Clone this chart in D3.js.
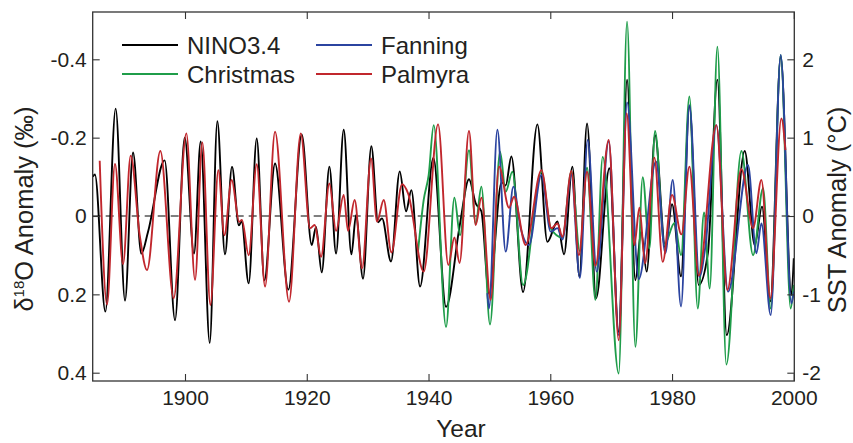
<!DOCTYPE html>
<html>
<head>
<meta charset="utf-8">
<script src="https://cdn.jsdelivr.net/npm/d3@7"></script>
<style>
body { margin: 0; background: #fff; }
text { font-family: "Liberation Sans", Arial, Helvetica, sans-serif; fill: #231f20; }
</style>
</head>
<body>
<div id="chart"></div>
<script>
// NINO3.4 SST anomaly (degC)
const nino34 = [
  [1884.85,0.50],[1885.2,0.53],[1886.92,-1.22],[1888.61,1.37],[1890.15,-1.08],[1891.46,0.81],
  [1892.83,-0.48],[1893.93,-0.20],[1896.66,0.71],[1898.36,-1.33],[1899.95,1.00],[1901.48,-0.48],
  [1902.58,0.95],[1904.06,-1.62],[1905.31,1.21],[1906.57,-0.49],[1907.72,0.63],[1908.85,-0.12],
  [1909.3,-0.07],[1910.46,-0.86],[1911.78,0.99],[1913.04,-0.82],[1914.79,0.67],[1916.98,-0.94],
  [1919.17,1.04],[1920.81,-0.37],[1921.52,-0.14],[1922.46,-0.72],[1923.72,0.63],[1924.81,-0.48],
  [1926.07,1.10],[1927.33,-0.49],[1928.09,0.01],[1929.24,-0.80],[1930.61,0.89],[1931.71,-0.08],
  [1932.36,-0.03],[1933.84,-0.58],[1935.27,0.57],[1936.31,0.06],[1937.18,0.33],[1938.61,-0.90],
  [1940.8,0.74],[1942.88,-1.16],[1945.13,-0.12],[1946.65,0.47],[1947.75,0.16],[1948.68,0.06],
  [1949.94,-0.99],[1952.02,0.43],[1952.68,0.39],[1953.61,0.76],[1955.53,-0.97],[1957.88,1.17],
  [1959.52,-0.33],[1961.17,-0.07],[1962.26,-0.49],[1963.63,0.63],[1964.78,-0.77],[1966.04,1.18],
  [1967.52,-1.05],[1969.71,0.61],[1971.24,-1.48],[1972.61,1.74],[1973.98,-0.82],[1974.91,-0.20],
  [1975.84,-0.71],[1977.21,1.03],[1978.91,-0.41],[1980.0,0.15],[1981.48,-0.77],[1982.85,1.40],
  [1984.38,-0.88],[1985.91,-0.46],[1987.45,1.74],[1988.98,-1.52],[1991.94,0.83],[1993.58,-0.37],
  [1994.78,0.12],[1996.15,-1.09],[1997.85,2.03],[1999.60,-1.01],[2000.0,-0.54]
];

// coral d18O anomalies (permil), left axis
const christmas = [
  [1938.28,0.09],[1939.21,-0.041],[1940.03,-0.105],[1940.85,-0.232],[1942.88,0.283],[1944.25,-0.047],
  [1945.18,0.049],[1946.65,-0.168],[1947.75,0.019],[1948.68,-0.075],[1950.1,0.277],[1951.75,-0.164],
  [1952.68,-0.062],[1953.77,-0.113],[1955.53,0.176],[1958.54,-0.113],[1960.07,0.031],[1962.0,0.055],
  [1963.47,-0.113],[1964.85,0.09],[1966.04,-0.123],[1967.41,0.214],[1968.61,-0.151],[1971.24,0.402],
  [1972.61,-0.496],[1973.98,0.334],[1975.18,-0.099],[1976.28,0.083],[1977.21,-0.217],[1978.74,0.074],
  [1980.4,0.018],[1981.48,0.1],[1982.85,-0.305],[1984.22,0.236],[1985.26,-0.009],[1986.19,0.185],
  [1987.45,-0.432],[1988.92,0.379],[1991.39,-0.166],[1993.31,0.1],[1994.95,-0.071],[1996.21,0.236],
  [1997.85,-0.411],[1999.49,0.236],[2000.0,0.176]
];

const fanning = [
  [1949.67,0.197],[1949.94,0.236],[1951.31,-0.22],[1952.68,0.091],[1953.94,-0.075],[1955.14,0.031],
  [1956.51,0.074],[1958.54,-0.105],[1960.07,0.04],[1961.17,0.031],[1961.99,0.06],[1963.47,-0.105],
  [1964.85,0.158],[1966.15,-0.194],[1967.63,0.142],[1969.6,-0.191],[1971.24,0.304],[1972.61,-0.29],
  [1974.53,0.161],[1977.37,-0.139],[1978.91,0.095],[1980.11,-0.092],[1981.48,0.231],[1982.85,-0.283],
  [1984.49,0.155],[1985.5,0.075],[1987.28,-0.232],[1989.2,0.193],[1992.48,-0.13],[1993.85,0.095],
  [1994.68,0.019],[1996.21,0.253],[1997.85,-0.411],[1999.6,0.223],[2000.0,0.193]
];

const palmyra = [
  [1885.99,-0.141],[1887.19,0.226],[1888.5,-0.133],[1889.82,0.123],[1891.08,-0.154],[1892.56,0.049],
  [1893.76,0.138],[1895.95,-0.166],[1898.14,0.21],[1900.22,-0.211],[1901.65,0.163],[1902.85,-0.188],
  [1904.17,0.227],[1905.48,-0.117],[1906.46,0.049],[1907.67,-0.092],[1908.9,0.015],[1909.35,0.01],
  [1910.46,0.1],[1911.78,-0.132],[1913.15,0.18],[1914.79,-0.215],[1917.09,0.219],[1919.01,-0.211],
  [1920.54,0.031],[1921.3,0.023],[1922.35,0.104],[1923.72,-0.083],[1924.81,0.038],[1926.07,-0.054],
  [1926.78,0.038],[1927.87,-0.041],[1929.08,0.134],[1930.56,-0.147],[1931.54,0.014],[1932.64,-0.041],
  [1933.9,0.093],[1935.65,-0.081],[1936.64,-0.058],[1939.21,0.142],[1941.57,-0.234],[1943.25,0.125],
  [1944.25,0.055],[1945.1,0.12],[1946.65,-0.217],[1947.75,0.023],[1948.68,-0.047],[1950.21,0.214],
  [1951.58,-0.126],[1953.23,-0.021],[1954.05,-0.049],[1955.96,0.074],[1958.54,-0.117],[1960.18,0.031],
  [1961.17,0.019],[1961.99,0.053],[1963.47,-0.115],[1964.7,0.1],[1966.04,-0.113],[1967.41,0.127],
  [1969.6,-0.194],[1971.24,0.317],[1972.55,-0.262],[1973.81,0.074],[1974.64,-0.021],[1975.57,0.121],
  [1977.1,-0.149],[1978.47,0.117],[1980.0,-0.054],[1981.54,0.047],[1982.85,-0.126],[1984.38,0.152],
  [1987.28,-0.232],[1989.09,0.189],[1991.39,-0.12],[1993.31,0.031],[1994.68,-0.092],[1996.15,0.21],
  [1997.96,-0.249],[1998.62,-0.168]
];

const yearTicks = [1900, 1920, 1940, 1960, 1980, 2000];
const leftTicks = [-0.4, -0.2, 0, 0.2, 0.4];
const rightTicks = [-2, -1, 0, 1, 2];
const seriesNames = ["NINO3.4", "Christmas", "Fanning", "Palmyra"];

const colors = {"NINO3.4": "#000000", "Christmas": "#1f9d4a", "Fanning": "#2b44a0", "Palmyra": "#c1272d"};

var width = 853, height = 443;
var box = {left: 92.7, right: 794.3, top: 12, bottom: 381};

var x = d3.scaleLinear().domain([1900, 2000]).range([185, 793.8]);
var yL = d3.scaleLinear().domain([-0.4, 0.4]).range([59.3, 372.7]);
var yR = d3.scaleLinear().domain([2, -2]).range([59.3, 372.7]);

var svg = d3.select("#chart").append("svg")
  .attr("width", width)
  .attr("height", height);

svg.append("defs").append("clipPath").attr("id", "clip")
  .append("rect")
  .attr("x", box.left).attr("y", box.top)
  .attr("width", box.right - box.left).attr("height", box.bottom - box.top);

// zero line
svg.append("line")
  .attr("x1", box.left).attr("x2", box.right)
  .attr("y1", yL(0)).attr("y2", yL(0))
  .attr("stroke", "#000").attr("stroke-width", 1)
  .attr("stroke-dasharray", "8,5");

var lineL = d3.line().x(d => x(d[0])).y(d => yL(d[1])).curve(d3.curveMonotoneX);
var lineR = d3.line().x(d => x(d[0])).y(d => yR(d[1])).curve(d3.curveMonotoneX);

var g = svg.append("g").attr("clip-path", "url(#clip)");

g.append("path").datum(nino34)
  .attr("d", lineR).attr("fill", "none")
  .attr("stroke", colors["NINO3.4"]).attr("stroke-width", 1.9);

[["Christmas", christmas], ["Fanning", fanning], ["Palmyra", palmyra]].forEach(function(s) {
  g.append("path").datum(s[1])
    .attr("d", lineL).attr("fill", "none")
    .attr("stroke", colors[s[0]]).attr("stroke-width", 1.9);
});

// axes, ticks pointing inward
function styleAxis(sel) {
  sel.select(".domain").remove();
  sel.selectAll(".tick line").attr("stroke", "#333").attr("stroke-width", 1.1);
  sel.selectAll("text").style("font-size", "21px").attr("fill", "#231f20");
}

svg.append("g")
  .attr("transform", "translate(0," + box.bottom + ")")
  .call(d3.axisBottom(x).tickValues(yearTicks).tickSize(-7).tickPadding(9).tickFormat(d3.format("d")))
  .call(styleAxis);

svg.append("g")
  .attr("transform", "translate(0," + box.top + ")")
  .call(d3.axisTop(x).tickValues(yearTicks).tickSize(-7).tickFormat(""))
  .call(styleAxis);

svg.append("g")
  .attr("transform", "translate(" + box.left + ",0)")
  .call(d3.axisLeft(yL).tickValues(leftTicks).tickSize(-7).tickPadding(6)
    .tickFormat(d => d === 0 ? "0" : d3.format(".1f")(d).replace("−", "-")))
  .call(styleAxis);

svg.append("g")
  .attr("transform", "translate(" + box.right + ",0)")
  .call(d3.axisRight(yR).tickValues(rightTicks).tickSize(-7).tickPadding(8)
    .tickFormat(d => String(d)))
  .call(styleAxis);

// frame
svg.append("rect")
  .attr("x", box.left).attr("y", box.top)
  .attr("width", box.right - box.left).attr("height", box.bottom - box.top)
  .attr("fill", "none").attr("stroke", "#333").attr("stroke-width", 1.3);

// axis titles
svg.append("text")
  .attr("x", 461)
  .attr("y", 437)
  .style("text-anchor", "middle")
  .style("font-size", "24.5px")
  .text("Year");

var lt = svg.append("text")
  .attr("transform", "translate(33,209) rotate(-90)")
  .style("text-anchor", "middle")
  .style("font-size", "25.5px");
lt.append("tspan").text("δ");
lt.append("tspan").attr("dy", -9).style("font-size", "15px").text("18");
lt.append("tspan").attr("dy", 9).text("O Anomaly (‰)");

svg.append("text")
  .attr("transform", "translate(846,210) rotate(-90)")
  .style("text-anchor", "middle")
  .style("font-size", "25.5px")
  .text("SST Anomaly (°C)");

// legend, two columns
var legendPos = [[122, 45], [122, 74], [316, 45], [316, 74]];
seriesNames.forEach(function(name, i) {
  var p = legendPos[i];
  svg.append("line")
    .attr("x1", p[0]).attr("x2", p[0] + 56)
    .attr("y1", p[1]).attr("y2", p[1])
    .attr("stroke", colors[name]).attr("stroke-width", 2);
  svg.append("text")
    .attr("x", p[0] + 65).attr("y", p[1] + 8.5)
    .style("font-size", "24px")
    .text(name);
});
</script>
</body>
</html>
